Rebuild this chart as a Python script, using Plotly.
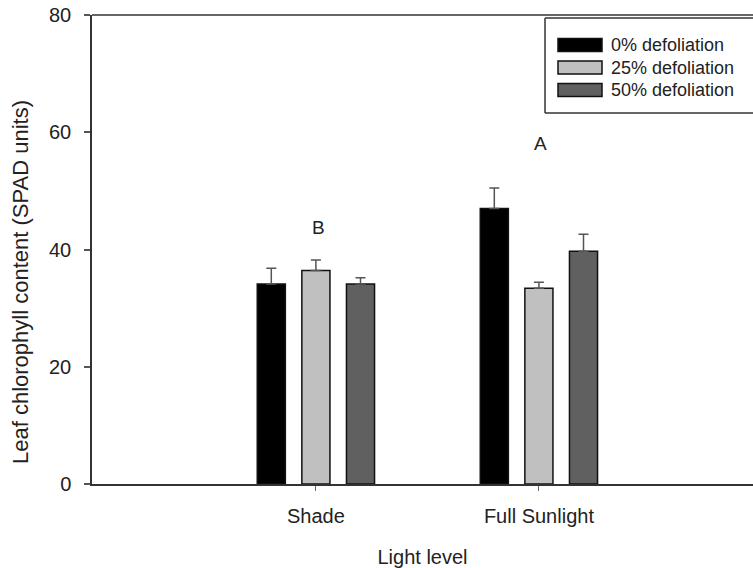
import plotly.graph_objects as go

categories = ["Shade", "Full Sunlight"]
series_names = ["0% defoliation", "25% defoliation", "50% defoliation"]
series_colors = ["#000000", "#c0c0c0", "#606060"]
values_0 = [34.1, 47.0]
values_25 = [36.4, 33.4]
values_50 = [34.1, 39.7]
errors_0 = [2.7, 3.5]
errors_25 = [1.8, 1.0]
errors_50 = [1.1, 2.9]
letters = ["B", "A"]
letter_y = [43.8, 58.1]
y_ticks = [0, 20, 40, 60, 80]

values = [values_0, values_25, values_50]
errors = [errors_0, errors_25, errors_50]

FONT = "Liberation Sans, Arial, sans-serif"
TXT = "#222222"
LINE = "#333333"

# the page's body margin is removed below, so figure pixels = window pixels
FW, FH = 753, 568
PL, PR, PT, PB = 92, 753, 15, 484          # plot area in window pixels
pw, ph = PR - PL, PB - PT


def px(x):
    return (x - PL) / pw


def py(y):
    return (PB - y) / ph


fig = go.Figure()
for name, color, vals, errs in zip(series_names, series_colors, values, errors):
    fig.add_trace(go.Bar(
        x=categories, y=vals, name=name,
        marker=dict(color=color, line=dict(color="#111111", width=1.5)),
        error_y=dict(type="data", symmetric=False, array=errs,
                     arrayminus=[0] * len(errs),
                     color="#555555", thickness=1.5, width=5),
        showlegend=False,
    ))

for cat, lab, ly, xs in zip(categories, letters, letter_y, [3, 2]):
    fig.add_annotation(x=cat, y=ly, text=lab, showarrow=False, xshift=xs,
                       xref="x", yref="y", xanchor="center", yanchor="middle",
                       font=dict(family=FONT, size=19, color=TXT))

# top frame line
fig.add_shape(type="line", xref="paper", yref="paper", x0=0, x1=1, y0=1, y1=1,
              line=dict(color=LINE, width=1.5), layer="above")

# boxed legend (right side runs off the page, as in the original)
lx0, lx1, ly0, ly1 = px(545), 1.0, py(113), py(18)
fig.add_shape(type="rect", xref="paper", yref="paper", x0=lx0, x1=lx1, y0=ly0, y1=ly1,
              line=dict(width=0), fillcolor="white", layer="above")
for (a, b, c, d) in [(lx0, lx1, ly1, ly1), (lx0, lx1, ly0, ly0), (lx0, lx0, ly0, ly1)]:
    fig.add_shape(type="line", xref="paper", yref="paper", x0=a, x1=b, y0=c, y1=d,
                  line=dict(color=LINE, width=1.5), layer="above")
row_y = [45, 67.5, 90]
for name, color, ry in zip(series_names, series_colors, row_y):
    fig.add_shape(type="rect", xref="paper", yref="paper",
                  x0=px(558), x1=px(602), y0=py(ry + 6.5), y1=py(ry - 6.5),
                  line=dict(color="#111111", width=1.5), fillcolor=color, layer="above")
    fig.add_annotation(x=px(609), y=py(ry), xref="paper", yref="paper",
                       text=name, showarrow=False, xanchor="left", yanchor="middle",
                       font=dict(family=FONT, size=18, color=TXT))

# y-axis title
fig.add_annotation(x=px(20), y=py(282), xref="paper", yref="paper",
                   text="Leaf chlorophyll content (SPAD units)", textangle=-90,
                   showarrow=False, xanchor="center", yanchor="middle",
                   font=dict(family=FONT, size=22, color=TXT))

fig.update_layout(
    width=FW, height=FH,
    margin=dict(l=PL, r=FW - PR, t=PT, b=FH - PB, pad=0, autoexpand=False),
    paper_bgcolor="white", plot_bgcolor="white",
    barmode="group", bargap=0.4, bargroupgap=0.37,
    font=dict(family=FONT, color=TXT),
    showlegend=False,
)
fig.update_xaxes(
    automargin=False,
    range=[-1.004, 1.96], showline=True, linecolor=LINE, linewidth=1.5,
    ticks="outside", ticklen=5, tickcolor="#666666", tickwidth=1,
    showgrid=False, zeroline=False, ticklabeloverflow="allow",
    tickfont=dict(family=FONT, size=20, color=TXT), ticklabelstandoff=8,
    title=dict(text="Light level", font=dict(family=FONT, size=20, color=TXT), standoff=28),
)
fig.update_yaxes(
    automargin=False,
    range=[0, 80], tickvals=y_ticks, showline=True, linecolor=LINE, linewidth=1.5,
    ticks="outside", ticklen=6, tickcolor="#555555", tickwidth=1.5,
    showgrid=False, zeroline=False, ticklabeloverflow="allow",
    tickfont=dict(family=FONT, size=20, color=TXT), ticklabelstandoff=9,
)

fig.write_html(
    "out.html",
    config={"displayModeBar": False},
    post_script="document.body.style.margin='0px';document.body.style.overflow='hidden';",
)
